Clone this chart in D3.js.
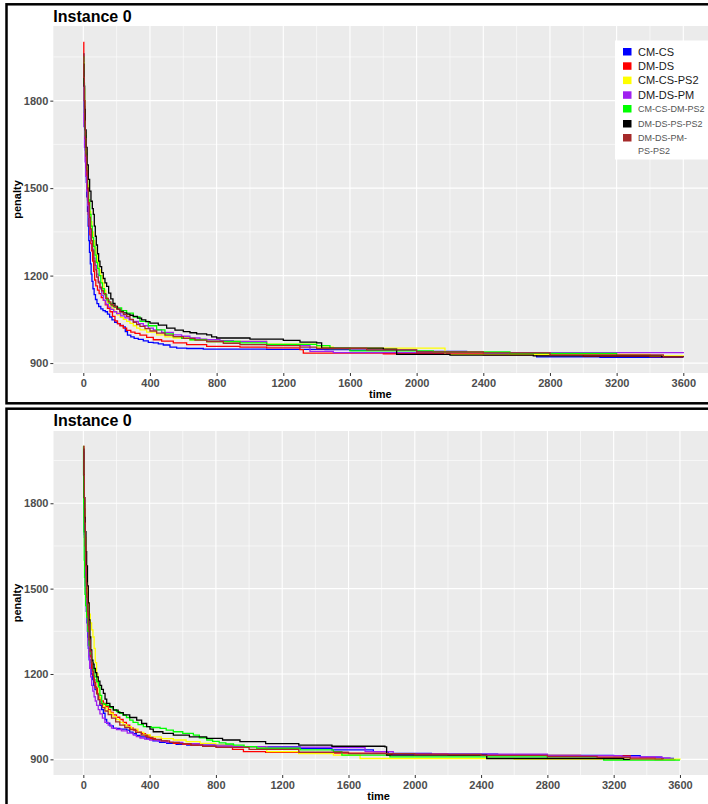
<!DOCTYPE html>
<html><head><meta charset="utf-8">
<script src="https://cdn.jsdelivr.net/npm/d3@7"></script>
<style>body{margin:0;background:#fff}svg{display:block}</style>
</head><body>
<script>
// ---------- DATA ----------
const seriesNames = ["CM-CS","DM-DS","CM-CS-PS2","DM-DS-PM","CM-CS-DM-PS2","DM-DS-PS-PS2","DM-DS-PM-PS-PS2"];
const seriesColors = ["#0000ff","#ff0000","#ffff00","#a020f0","#00ff00","#000000","#a52a2a"];
const xTicks = [0,400,800,1200,1600,2000,2400,2800,3200,3600];
const yTicks = [900,1200,1500,1800];
const panelTitles = ["Instance 0","Instance 0"];

// top panel: [time, penalty]
const top_CM_CS = [[0,1960],[3,1880],[6,1780],[9,1700],[12,1630],[15,1570],[18,1520],[21,1470],[25,1420],[29,1370],[33,1320],[37,1280],[42,1240],[47,1205],[52,1180],[58,1155],[65,1135],[73,1118],[82,1104],[92,1094],[105,1086],[118,1080],[132,1076],[145,1068],[158,1058],[172,1048],[188,1040],[205,1035],[222,1029],[240,1024],[252,1008],[265,996],[285,990],[305,985],[330,981],[360,976],[390,971],[420,969],[450,966],[480,962],[520,955],[560,951],[620,950],[720,948],[1100,947],[1450,946],[1600,944],[2000,940],[2300,934],[2720,921],[3100,920],[3600,920]];
const top_DM_DS = [[0,2000],[3,1900],[6,1800],[9,1720],[12,1640],[16,1570],[20,1510],[25,1460],[30,1410],[35,1370],[40,1340],[45,1310],[50,1285],[56,1250],[62,1215],[68,1185],[75,1165],[85,1150],[95,1138],[108,1125],[120,1115],[132,1100],[145,1088],[160,1076],[175,1060],[190,1045],[205,1035],[220,1028],[240,1020],[260,1012],[285,1006],[310,1002],[340,996],[380,988],[420,980],[470,975],[540,969],[620,963],[740,957],[940,955],[1100,952],[1300,946],[1320,934],[1800,932],[2400,928],[3000,924],[3400,922],[3600,921]];
const top_CM_CS_PS2 = [[0,1930],[4,1840],[8,1760],[12,1690],[16,1630],[21,1570],[26,1510],[32,1460],[38,1420],[45,1385],[52,1350],[60,1320],[68,1295],[76,1270],[85,1245],[95,1220],[105,1200],[115,1175],[125,1150],[135,1125],[145,1108],[158,1095],[172,1085],[188,1075],[205,1065],[222,1057],[240,1050],[260,1043],[280,1036],[300,1028],[320,1020],[340,1014],[380,1006],[440,997],[490,990],[540,986],[640,980],[740,974],[1100,965],[1400,955],[1500,951],[2160,951],[2170,930],[3400,925],[3600,924]];
const top_DM_DS_PM = [[0,1900],[3,1711],[7,1640],[11,1590],[15,1540],[20,1490],[26,1440],[32,1400],[39,1360],[46,1320],[54,1290],[62,1260],[70,1235],[80,1205],[90,1180],[100,1155],[110,1132],[122,1115],[135,1102],[150,1092],[165,1084],[182,1076],[200,1070],[225,1062],[250,1055],[275,1048],[300,1043],[330,1035],[360,1028],[390,1020],[420,1014],[470,1005],[540,997],[590,992],[640,986],[700,982],[740,980],[820,977],[900,974],[1100,963],[1300,960],[1360,940],[1500,936],[3600,934]];
const top_CM_CS_DM_PS2 = [[0,1950],[3,1860],[7,1760],[11,1680],[15,1620],[20,1560],[26,1500],[32,1460],[39,1410],[46,1370],[54,1330],[62,1300],[70,1270],[78,1245],[86,1225],[95,1200],[105,1175],[115,1155],[127,1135],[140,1117],[155,1105],[170,1097],[185,1092],[200,1089],[230,1080],[260,1071],[300,1058],[340,1043],[390,1028],[440,1014],[490,1000],[540,991],[590,985],[640,980],[740,974],[940,969],[1100,964],[1400,960],[1480,950],[1600,942],[2100,938],[2560,933],[3200,926]];
const top_DM_DS_PS_PS2 = [[0,1925],[4,1850],[8,1770],[12,1700],[17,1640],[23,1580],[30,1530],[38,1490],[46,1455],[54,1430],[60,1410],[66,1370],[72,1335],[78,1305],[85,1275],[92,1250],[100,1231],[110,1210],[120,1190],[130,1175],[140,1163],[152,1140],[165,1120],[178,1105],[190,1094],[205,1085],[220,1077],[240,1072],[260,1068],[280,1064],[300,1060],[325,1054],[350,1048],[375,1042],[400,1037],[450,1030],[500,1020],[550,1013],[600,1008],[640,1004],[680,1000],[740,997],[770,990],[800,986],[1000,982],[1200,978],[1300,972],[1400,969],[1430,951],[1800,948],[1880,930],[2200,927],[2700,925],[3470,922],[3600,921]];
const top_DM_DS_PM_PS_PS2 = [[0,1960],[3,1880],[6,1800],[9,1730],[12,1670],[16,1610],[20,1560],[25,1500],[30,1450],[36,1400],[42,1360],[49,1320],[56,1285],[63,1250],[70,1220],[80,1195],[90,1175],[100,1160],[110,1148],[120,1138],[135,1122],[150,1110],[165,1100],[180,1094],[200,1085],[220,1075],[240,1067],[260,1060],[280,1050],[300,1040],[320,1032],[340,1026],[370,1018],[400,1010],[440,1003],[490,996],[540,991],[600,985],[670,979],[740,974],[840,968],[940,963],[1100,960],[1300,955],[1400,950],[1700,945],[2000,938],[2400,935],[2800,928],[3480,921],[3600,920]];

// bottom panel: [time, penalty]
const bot_CM_CS = [[0,1980],[2,1880],[4,1780],[6,1690],[8,1620],[10,1560],[12,1510],[15,1460],[18,1420],[22,1380],[26,1330],[30,1290],[35,1250],[40,1220],[47,1200],[55,1180],[62,1160],[70,1145],[81,1132],[90,1110],[100,1090],[110,1075],[121,1062],[131,1040],[141,1027],[160,1018],[181,1009],[220,1006],[262,1003],[280,996],[300,990],[320,984],[342,979],[380,972],[420,965],[460,960],[503,956],[560,953],[624,950],[906,944],[1308,939],[1500,933],[1750,927],[1840,921],[2100,918],[2500,916],[2800,914],[3200,913],[3360,908],[3490,903],[3560,900]];
const bot_DM_DS = [[0,2000],[3,1880],[6,1780],[9,1690],[12,1620],[15,1560],[18,1500],[22,1450],[26,1400],[31,1350],[36,1300],[42,1260],[50,1220],[58,1195],[66,1170],[75,1150],[85,1130],[96,1115],[108,1105],[121,1097],[135,1085],[150,1075],[165,1065],[181,1056],[200,1048],[220,1040],[240,1030],[260,1020],[280,1010],[302,1003],[325,996],[350,990],[375,982],[403,974],[435,969],[470,965],[505,960],[543,956],[600,953],[650,950],[720,947],[805,944],[900,935],[966,927],[1100,925],[1300,922],[1830,918],[2200,916],[2800,914],[3000,912],[3300,905],[3450,899],[3570,898]];
const bot_CM_CS_PS2 = [[0,1950],[2,1900],[4,1850],[6,1800],[8,1760],[10,1720],[12,1680],[15,1630],[18,1580],[21,1540],[25,1490],[30,1450],[36,1410],[42,1380],[50,1355],[58,1330],[65,1290],[72,1240],[80,1200],[88,1160],[95,1130],[101,1108],[110,1095],[120,1087],[130,1080],[145,1070],[161,1062],[180,1050],[200,1040],[220,1030],[240,1022],[262,1015],[290,1006],[330,995],[365,987],[403,979],[470,973],[543,968],[620,962],[704,956],[800,950],[906,944],[1107,927],[1300,920],[1509,915],[1670,903],[2600,901],[3600,899]];
const bot_DM_DS_PM = [[0,1900],[2,1820],[4,1750],[6,1680],[8,1600],[11,1540],[14,1480],[17,1440],[20,1400],[24,1350],[28,1300],[33,1260],[38,1220],[44,1190],[50,1160],[57,1140],[65,1120],[72,1105],[80,1090],[90,1075],[100,1060],[115,1045],[130,1030],[150,1020],[170,1010],[200,1005],[230,1000],[265,992],[302,985],[320,980],[342,975],[370,971],[400,968],[450,964],[500,960],[600,955],[700,950],[800,947],[900,945],[1100,943],[1500,941],[1700,927],[1870,918],[2800,913],[3250,909],[3490,905],[3540,904]];
const bot_CM_CS_DM_PS2 = [[0,2000],[1,1900],[2,1800],[3,1700],[5,1600],[7,1540],[10,1480],[14,1440],[20,1400],[27,1350],[35,1300],[42,1270],[50,1240],[60,1215],[70,1190],[80,1172],[91,1155],[100,1125],[111,1097],[125,1093],[141,1090],[160,1082],[180,1075],[200,1068],[220,1062],[240,1055],[260,1047],[280,1038],[300,1030],[330,1022],[362,1015],[410,1012],[463,1009],[500,1003],[543,997],[600,991],[664,985],[700,976],[745,968],[780,963],[820,958],[860,954],[906,950],[970,945],[1046,939],[1308,933],[1509,927],[1560,915],[1850,909],[2800,904],[3140,897],[3600,897]];
const bot_DM_DS_PS_PS2 = [[0,1990],[3,1900],[6,1820],[9,1750],[12,1700],[16,1630],[20,1580],[25,1510],[30,1450],[35,1390],[40,1330],[45,1285],[51,1249],[58,1235],[65,1220],[73,1205],[81,1190],[90,1175],[100,1160],[110,1146],[121,1132],[131,1112],[141,1097],[160,1085],[181,1073],[210,1064],[241,1056],[280,1047],[322,1038],[352,1026],[382,1015],[402,1006],[422,997],[480,991],[543,985],[640,979],[744,974],[840,968],[945,962],[1100,955],[1300,950],[1500,946],[1820,944],[1830,915],[2434,903],[3260,900],[3300,900]];
const bot_DM_DS_PM_PS_PS2 = [[0,2000],[3,1900],[6,1820],[9,1730],[12,1650],[15,1580],[18,1520],[21,1470],[25,1420],[30,1370],[35,1320],[41,1280],[48,1240],[55,1210],[62,1180],[70,1155],[80,1130],[90,1110],[100,1095],[115,1082],[130,1070],[150,1057],[170,1045],[195,1032],[220,1020],[250,1012],[280,1005],[315,995],[350,985],[385,977],[420,970],[470,965],[520,960],[580,955],[650,950],[720,946],[800,942],[1000,935],[1300,925],[1600,920],[2000,917],[2400,914],[2800,910],[3100,907],[3300,902],[3500,901]];

const topSeries = [top_CM_CS, top_DM_DS, top_CM_CS_PS2, top_DM_DS_PM, top_CM_CS_DM_PS2, top_DM_DS_PS_PS2, top_DM_DS_PM_PS_PS2];
const botSeries = [bot_CM_CS, bot_DM_DS, bot_CM_CS_PS2, bot_DM_DS_PM, bot_CM_CS_DM_PS2, bot_DM_DS_PS_PS2, bot_DM_DS_PM_PS_PS2];

// ---------- DRAW ----------
const W = 708, H = 804;
const FONT = "'Liberation Sans', Arial, Helvetica, sans-serif";
const svg = d3.select("body").append("svg").attr("width", W).attr("height", H)
  .style("font-family", FONT);
svg.append("rect").attr("width", W).attr("height", H).attr("fill", "#fff");

const xDomain = [-180, 3780];

function drawPanel(cfg) {
  const g = svg.append("g");
  const {series, box, plot, yDomain, legend, title, titleY} = cfg;
  g.append("rect").attr("x", box.x).attr("y", box.y).attr("width", box.w).attr("height", box.h)
    .attr("fill", "none").attr("stroke", "#000").attr("stroke-width", box.sw);

  const x = d3.scaleLinear().domain(xDomain).range([plot.x0, plot.x1]);
  const y = d3.scaleLinear().domain(yDomain).range([plot.y1, plot.y0]);

  g.append("rect").attr("x", plot.x0).attr("y", plot.y0)
    .attr("width", plot.x1 - plot.x0).attr("height", plot.y1 - plot.y0).attr("fill", "#ebebeb");

  const xMinor = d3.range(200, 3600, 400);
  const yMinor = [1050, 1350, 1650, 1950];
  g.selectAll(null).data(xMinor).join("line")
    .attr("x1", d => x(d)).attr("x2", d => x(d)).attr("y1", plot.y0).attr("y2", plot.y1)
    .attr("stroke", "#fff").attr("stroke-width", 0.6);
  g.selectAll(null).data(yMinor.filter(v => v > yDomain[0] && v < yDomain[1])).join("line")
    .attr("y1", d => y(d)).attr("y2", d => y(d)).attr("x1", plot.x0).attr("x2", plot.x1)
    .attr("stroke", "#fff").attr("stroke-width", 0.6);
  g.selectAll(null).data(xTicks).join("line")
    .attr("x1", d => x(d)).attr("x2", d => x(d)).attr("y1", plot.y0).attr("y2", plot.y1)
    .attr("stroke", "#fff").attr("stroke-width", 1.1);
  g.selectAll(null).data(yTicks).join("line")
    .attr("y1", d => y(d)).attr("y2", d => y(d)).attr("x1", plot.x0).attr("x2", plot.x1)
    .attr("stroke", "#fff").attr("stroke-width", 1.1);

  const fmt = d3.format("d");
  const xAxis = d3.axisBottom(x).tickValues(xTicks).tickFormat(fmt).tickSize(3).tickPadding(3);
  const xa = g.append("g").attr("transform", `translate(0,${plot.y1})`).call(xAxis);
  const yAxis = d3.axisLeft(y).tickValues(yTicks).tickFormat(fmt).tickSize(3).tickPadding(2);
  const ya = g.append("g").attr("transform", `translate(${plot.x0},0)`).call(yAxis);
  [xa, ya].forEach(a => {
    a.select(".domain").remove();
    a.selectAll(".tick line").attr("stroke", "#333").attr("stroke-width", 1);
    a.selectAll(".tick text").attr("fill", "#4d4d4d").style("font-size", "11px")
      .style("font-weight", "bold").style("font-family", FONT);
  });

  const clipId = "clip" + Math.round(plot.y0);
  g.append("clipPath").attr("id", clipId).append("rect")
    .attr("x", plot.x0).attr("y", plot.y0).attr("width", plot.x1 - plot.x0).attr("height", plot.y1 - plot.y0);
  const line = d3.line().x(d => x(d[0])).y(d => y(d[1])).curve(d3.curveStepAfter);
  g.append("g").attr("clip-path", `url(#${clipId})`)
    .selectAll("path").data(series).join("path")
    .attr("d", line).attr("fill", "none")
    .attr("stroke", (d, i) => seriesColors[i]).attr("stroke-width", 1.3)
    .attr("stroke-linejoin", "miter");

  g.append("text").attr("x", plot.x0).attr("y", titleY).text(title)
    .style("font-size", "16px").style("font-weight", "bold").attr("fill", "#000");
  g.append("text").attr("x", (plot.x0 + plot.x1) / 2 - 3).attr("y", plot.y1 + 25)
    .attr("text-anchor", "middle").text("time")
    .style("font-size", "11px").style("font-weight", "bold").attr("fill", "#000");
  g.append("text")
    .attr("transform", `translate(21,${(plot.y0 + plot.y1) / 2}) rotate(-90)`)
    .attr("text-anchor", "middle").text("penalty")
    .style("font-size", "11px").style("font-weight", "bold").attr("fill", "#000");

  if (legend) {
    const lg = g.append("g");
    lg.append("rect").attr("x", 615).attr("y", 40.5).attr("width", 100).attr("height", 119).attr("fill", "#fff");
    const rows = [51.7, 66, 80.3, 95, 108.7, 123.7, 137.7];
    seriesNames.forEach((name, i) => {
      lg.append("rect").attr("x", 623).attr("y", rows[i] - 3.7).attr("width", 8.5).attr("height", 7.5)
        .attr("fill", seriesColors[i]);
      const big = i < 4;
      const t = lg.append("text").attr("x", 638).attr("y", rows[i] + (big ? 4 : 3.3))
        .style("font-size", big ? "11px" : "9px").attr("fill", big ? "#1a1a1a" : "#555");
      if (i === 6) {
        t.text("DM-DS-PM-");
        lg.append("text").attr("x", 638).attr("y", rows[i] + 16.3).text("PS-PS2")
          .style("font-size", "9px").attr("fill", "#555");
      } else t.text(name);
    });
  }
}

drawPanel({
  series: topSeries, title: panelTitles[0], titleY: 22,
  box: {x: 6.5, y: 4.3, w: 720, h: 399, sw: 2.5},
  plot: {x0: 53.3, x1: 713.3, y0: 26, y1: 373},
  yDomain: [866, 2056], legend: true
});
drawPanel({
  series: botSeries, title: panelTitles[1], titleY: 426,
  box: {x: 6.5, y: 408.7, w: 720, h: 420, sw: 2.5},
  plot: {x0: 53.5, x1: 709.8, y0: 431, y1: 775},
  yDomain: [845, 2054], legend: false
});
</script>
</body></html>
